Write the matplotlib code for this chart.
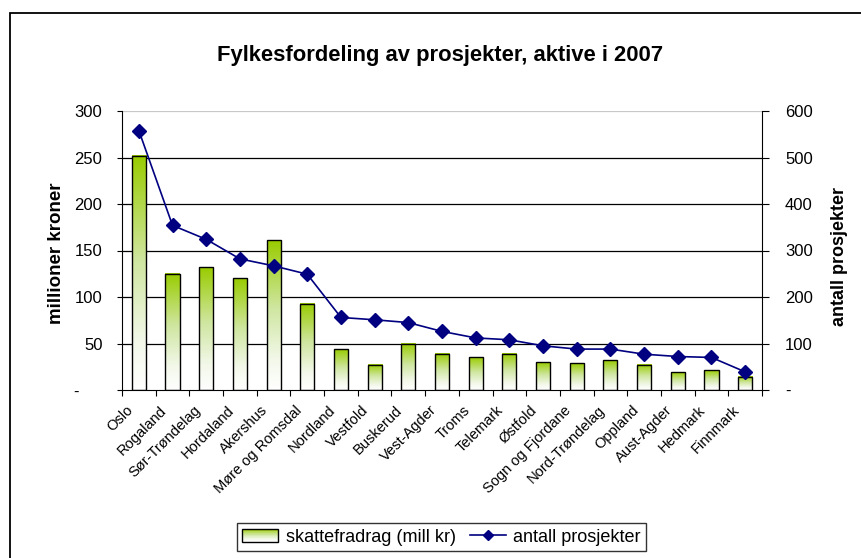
import numpy as np
import matplotlib
matplotlib.use("Agg")
import matplotlib.pyplot as plt
from matplotlib.colors import LinearSegmentedColormap
from matplotlib.patches import Rectangle
from matplotlib.legend_handler import HandlerBase
from matplotlib.lines import Line2D
from matplotlib.transforms import ScaledTranslation

plt.rcParams['font.family'] = ['Liberation Sans', 'DejaVu Sans']

counties = ["Oslo", "Rogaland", "Sør-Trøndelag", "Hordaland", "Akershus",
            "Møre og Romsdal", "Nordland", "Vestfold", "Buskerud", "Vest-Agder",
            "Troms", "Telemark", "Østfold", "Sogn og Fjordane", "Nord-Trøndelag",
            "Oppland", "Aust-Agder", "Hedmark", "Finnmark"]
tax_deduction = [252, 125, 132, 120, 161, 93, 44, 27, 50, 39,
                 35, 39, 30, 29, 32, 27, 19, 21, 14]
projects = [558, 354, 324, 282, 267, 249, 156, 151, 145, 126,
            112, 108, 95, 88, 88, 77, 72, 70, 39]

left_ticks = [0, 50, 100, 150, 200, 250, 300]
left_labels = ["-     ", "50", "100", "150", "200", "250", "300"]
right_ticks = [0, 100, 200, 300, 400, 500, 600]
right_labels = ["-", "100", "200", "300", "400", "500", "600"]

GREEN = "#99cc00"
NAVY = "#000080"
grad_cmap = LinearSegmentedColormap.from_list(
    "grad", [(0.0, "#ffffff"), (0.2, "#f3f8ea"), (0.55, "#cfe6a0"), (1.0, GREEN)])

fig = plt.figure(figsize=(8.62, 5.58), dpi=100)
ax = fig.add_axes([122 / 862, 1 - 390 / 558, 640 / 862, 279 / 558])
ax2 = ax.twinx()

x = np.arange(len(counties))
width = 0.42

# gridlines
for v in left_ticks[1:-1]:
    ax.axhline(v, color="black", lw=0.9, zorder=0)
ax.axhline(300, color="#c8c8c8", lw=0.9, zorder=0)

# gradient-filled bars
grad = np.linspace(0, 1, 256).reshape(-1, 1)
for xi, h in zip(x, tax_deduction):
    ax.imshow(grad, cmap=grad_cmap, origin="lower", aspect="auto",
              extent=[xi - width / 2, xi + width / 2, 0, h], zorder=2)
ax.bar(x, tax_deduction, width=width, facecolor="none", edgecolor="black",
       linewidth=1.0, zorder=3)

ax.set_xlim(-0.5, len(counties) - 0.5)
ax.set_ylim(0, 300)
ax2.set_ylim(0, 600)

ax2.plot(x, projects, color=NAVY, lw=1.2, marker="D", markersize=7,
         markerfacecolor=NAVY, markeredgecolor=NAVY, zorder=5)

# axes styling
for a in (ax, ax2):
    a.spines["top"].set_visible(False)
ax.spines["right"].set_visible(False)
ax2.spines["left"].set_visible(False)
ax2.spines["bottom"].set_visible(False)
for s in ("left", "bottom"):
    ax.spines[s].set_color("black")
ax2.spines["right"].set_color("black")

ax.set_yticks(left_ticks)
ax.set_yticklabels(left_labels, fontsize=12)
ax.tick_params(axis="y", direction="out", length=3.6, pad=10.5)
ax2.set_yticks(right_ticks)
ax2.set_yticklabels(right_labels, fontsize=12)
ax2.tick_params(axis="y", direction="out", length=5, pad=11.5)

ax.set_xticks(np.arange(-0.5, len(counties), 1.0))
ax.set_xticklabels([])
ax.tick_params(axis="x", direction="out", length=4)
ax.set_xticks(x, minor=True)
ax.set_xticklabels(counties, minor=True, rotation=45, ha="right",
                   rotation_mode="anchor", fontsize=10.5)
ax.tick_params(axis="x", which="minor", length=0, pad=8)
shift = ScaledTranslation(-0.13, -0.02, fig.dpi_scale_trans)
for lbl in ax.get_xticklabels(minor=True):
    lbl.set_transform(lbl.get_transform() + shift)

ax.set_zorder(ax2.get_zorder() - 1)
ax2.patch.set_visible(False)

ax.set_ylabel("millioner kroner", fontsize=13.5, fontweight="bold")
ax.yaxis.set_label_coords((65 - 122) / 640, (390 - 253) / 279)
ax2.set_ylabel("antall prosjekter", fontsize=13, fontweight="bold")
ax2.yaxis.set_label_coords((831 - 122) / 640, (390 - 256) / 279)

fig.text(440 / 862, 1 - 55 / 558, "Fylkesfordeling av prosjekter, aktive i 2007",
         ha="center", va="center", fontsize=15.8, fontweight="bold")

# outer chart frame
fig.add_artist(Rectangle((10 / 862, -0.2), 1.2, 1.2 - 13 / 558,
                         transform=fig.transFigure, fill=False,
                         edgecolor="black", lw=1.3, clip_on=False))


class GradientPatchHandler(HandlerBase):
    def create_artists(self, legend, orig_handle, xdescent, ydescent,
                       width, height, fontsize, trans):
        artists = []
        n = 20
        for i in range(n):
            c = grad_cmap((i + 0.5) / n)
            artists.append(Rectangle((-xdescent, -ydescent + height * i / n),
                                     width, height / n, facecolor=c,
                                     edgecolor="none", transform=trans))
        artists.append(Rectangle((-xdescent, -ydescent), width, height,
                                 facecolor="none", edgecolor="black", lw=1.0,
                                 transform=trans))
        return artists


bar_handle = Rectangle((0, 0), 1, 1)
line_handle = Line2D([], [], color=NAVY, lw=1.2, marker="D", markersize=5,
                     markerfacecolor=NAVY, markeredgecolor=NAVY)
leg = fig.legend([bar_handle, line_handle],
                 ["skattefradrag (mill kr)", "antall prosjekter"],
                 handler_map={Rectangle: GradientPatchHandler()},
                 loc="center", bbox_to_anchor=(441.5 / 862, 1 - 537 / 558),
                 ncol=2, fontsize=13, frameon=True, fancybox=False,
                 edgecolor="black", handlelength=2.0, handletextpad=0.4,
                 columnspacing=0.8, borderpad=0.3)
leg.get_frame().set_linewidth(1.0)

fig.savefig("out.png", dpi=100)
